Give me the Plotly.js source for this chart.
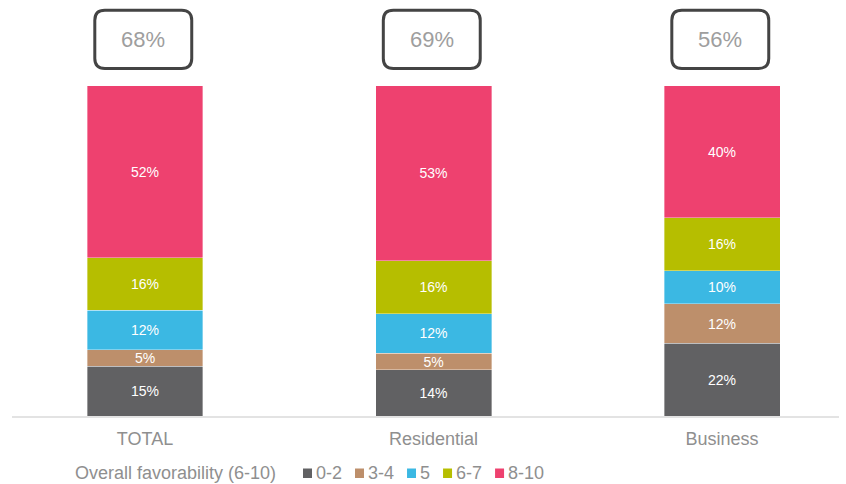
<!DOCTYPE html>
<html>
<head>
<meta charset="utf-8">
<script src="https://cdn.plot.ly/plotly-3.0.1.min.js"></script>
<style>html,body{margin:0;padding:0;background:#fff;}#chart{width:846px;height:484px;}</style>
</head>
<body>
<div id="chart"></div>
<script>
const categories = ["TOTAL", "Residential", "Business"];
const seriesNames = ["0-2", "3-4", "5", "6-7", "8-10"];
const v0_2 = [15, 14, 22];
const v3_4 = [5, 5, 12];
const v5 = [12, 12, 10];
const v6_7 = [16, 16, 16];
const v8_10 = [52, 53, 40];
const favorability = [68, 69, 56];
const legendTitle = "Overall favorability (6-10)";
const colors = ["#616163", "#bd8f6b", "#3bb8e3", "#b6be00", "#ee416f"];

const seriesValues = [v0_2, v3_4, v5, v6_7, v8_10];
const xIdx = categories.map((c, i) => i);
const font = "Liberation Sans, Arial, sans-serif";
const grey = "#8f8f8f";

const traces = seriesValues.map((vals, k) => ({
  type: "bar",
  name: seriesNames[k],
  x: xIdx,
  y: vals,
  width: 0.402,
  marker: {color: colors[k], line: {color: "rgba(255,255,255,0.6)", width: 0.6}},
  text: vals.map(v => v + "%"),
  textposition: "inside",
  insidetextanchor: "middle",
  textangle: 0,
  textfont: {color: "#ffffff", size: 14, family: font},
  hoverinfo: "none",
  showlegend: false
}));

// plot-area geometry (pixels) used to place decorations in paper coords
const M = {l: 12, r: 7, t: 5, b: 68};
const W = 846, H = 484;
const pw = W - M.l - M.r, ph = H - M.t - M.b;
const px2paperX = px => (px - M.l) / pw;
const py2paperY = py => (H - M.b - py) / ph;

// rounded boxes above each bar
const hw = 0.168, rx = 0.035, ry = 3.0, y0 = 105.3, y1 = 122.9;
const shapes = xIdx.map(i => {
  const a = i - hw - 0.006, b = i + hw - 0.006;
  const p = `M ${a+rx},${y0} L ${b-rx},${y0} Q ${b},${y0} ${b},${y0+ry} L ${b},${y1-ry} Q ${b},${y1} ${b-rx},${y1} L ${a+rx},${y1} Q ${a},${y1} ${a},${y1-ry} L ${a},${y0+ry} Q ${a},${y0} ${a+rx},${y0} Z`;
  return {type: "path", xref: "x", yref: "y", path: p, line: {color: "#444444", width: 3}, fillcolor: "rgba(0,0,0,0)"};
});
const annotations = xIdx.map(i => ({
  x: i - 0.006, y: (y0 + y1) / 2, xref: "x", yref: "y",
  text: favorability[i] + "%", showarrow: false,
  font: {size: 22, color: "#9e9e9e", family: font}
}));

// legend drawn as annotations + square shapes
const legFont = 18;
const ctx = document.createElement("canvas").getContext("2d");
ctx.font = legFont + "px 'Liberation Sans', Arial, sans-serif";
const legY = 473;
annotations.push({
  xref: "paper", yref: "paper", x: px2paperX(73), y: py2paperY(legY),
  xanchor: "left", yanchor: "middle", showarrow: false, text: legendTitle,
  font: {size: legFont, color: grey, family: font}
});
let cx = 303;
seriesNames.forEach((name, k) => {
  shapes.push({
    type: "rect", xref: "paper", yref: "paper",
    x0: px2paperX(cx), x1: px2paperX(cx + 9),
    y0: py2paperY(legY + 5), y1: py2paperY(legY - 4.5),
    fillcolor: colors[k], line: {width: 0}
  });
  const tx = cx + 12;
  annotations.push({
    xref: "paper", yref: "paper", x: px2paperX(tx - 1), y: py2paperY(legY),
    xanchor: "left", yanchor: "middle", showarrow: false, text: name,
    font: {size: legFont, color: grey, family: font}
  });
  cx = tx + ctx.measureText(name).width + 14;
});

const layout = {
  width: W, height: H,
  margin: {l: M.l, r: M.r, t: M.t, b: M.b, pad: 0},
  paper_bgcolor: "#ffffff", plot_bgcolor: "#ffffff",
  barmode: "stack",
  showlegend: false,
  uniformtext: {minsize: 14, mode: "show"},
  font: {family: font, color: grey},
  xaxis: {
    range: [-0.461, 2.4055], tickmode: "array", tickvals: xIdx, ticktext: categories,
    showgrid: false, zeroline: false, showline: true, linecolor: "#e3e3e3", linewidth: 1.5,
    ticks: "", ticklabelstandoff: 6, tickfont: {size: 18, color: grey, family: font}, fixedrange: true
  },
  yaxis: {range: [0, 124.5], visible: false, showgrid: false, zeroline: false, fixedrange: true},
  shapes: shapes,
  annotations: annotations
};

Plotly.newPlot("chart", traces, layout, {displayModeBar: false, staticPlot: true});
</script>
</body>
</html>
